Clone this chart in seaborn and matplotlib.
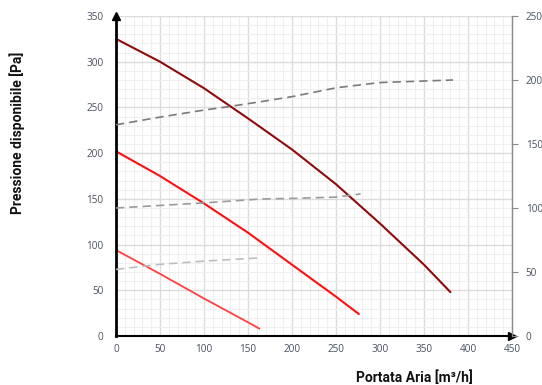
import matplotlib
matplotlib.use("Agg")
import matplotlib.pyplot as plt
import seaborn as sns
from matplotlib.ticker import MultipleLocator

# Pressure curves (left axis, Pa) vs air flow (m3/h)
flow_high = [0, 50, 100, 150, 200, 250, 300, 350, 380]
press_high = [325, 300, 271, 238, 204, 166, 123, 78, 48]
flow_mid = [0, 50, 100, 150, 200, 250, 276]
press_mid = [202, 175, 145, 113, 78, 43, 24]
flow_low = [0, 50, 100, 150, 163]
press_low = [94, 68, 41, 15, 8]

# Secondary curves (right axis), dashed
flow_d_high = [0, 50, 100, 126, 164, 200, 251, 300, 383]
val_d_high = [165, 171, 176.5, 179, 183, 187, 194, 198, 200]
flow_d_mid = [0, 50, 100, 164, 200, 250, 278]
val_d_mid = [100, 102, 104, 107, 107.5, 108.5, 111]
flow_d_low = [0, 50, 100, 163]
val_d_low = [52, 56, 58.5, 61]

x_ticks = [0, 50, 100, 150, 200, 250, 300, 350, 400, 450]
y_ticks_left = [0, 50, 100, 150, 200, 250, 300, 350]
y_ticks_right = [0, 50, 100, 150, 200, 250]

sns.set_style("white")
plt.rcParams["font.family"] = ["Open Sans", "DejaVu Sans"]

fig = plt.figure(figsize=(5.42, 3.85), dpi=100)
ax = fig.add_axes([116 / 542, 1 - 336 / 385, 396 / 542, 320 / 385])
ax2 = ax.twinx()

tick_color = "#4a5260"

# grid on the primary axis
ax.set_xlim(0, 450)
ax.set_ylim(0, 350)
ax.xaxis.set_major_locator(MultipleLocator(50))
ax.yaxis.set_major_locator(MultipleLocator(50))
ax.xaxis.set_minor_locator(MultipleLocator(10))
ax.yaxis.set_minor_locator(MultipleLocator(10))
ax.grid(which="major", color="#dcdcdc", linewidth=1.0)
ax.grid(which="minor", color="#efefef", linewidth=0.8)
ax.set_axisbelow(True)

# dashed curves on secondary axis
for fx, fy, col in [(flow_d_high, val_d_high, "#7a7a7a"),
                    (flow_d_mid, val_d_mid, "#9a9a9a"),
                    (flow_d_low, val_d_low, "#bdbdbd")]:
    sns.lineplot(x=fx, y=fy, ax=ax2, color=col, linewidth=1.2,
                 linestyle=(0, (5, 3)), sort=False)

# solid pressure curves
sns.lineplot(x=flow_high, y=press_high, ax=ax, color="#8f0a0a", linewidth=1.5, sort=False)
sns.lineplot(x=flow_mid, y=press_mid, ax=ax, color="#ff1010", linewidth=1.5, sort=False)
sns.lineplot(x=flow_low, y=press_low, ax=ax, color="#ff4040", linewidth=1.3, sort=False)

ax.set_xticks(x_ticks)
ax.set_yticks(y_ticks_left)
ax.tick_params(axis="both", which="both", length=0, labelsize=7.2,
               labelcolor=tick_color, pad=9)
ax.tick_params(axis="x", pad=6)

ax2.set_ylim(0, 250)
ax2.set_yticks(y_ticks_right)
ax2.tick_params(axis="y", length=4, width=0.8, color="#888888",
                labelsize=7.2, labelcolor=tick_color, pad=6)
ax2.grid(False)

for sp in ["top", "right"]:
    ax.spines[sp].set_visible(False)
for sp in ["top", "left", "bottom"]:
    ax2.spines[sp].set_visible(False)
ax2.spines["right"].set_color("#8a8a8a")
ax2.spines["right"].set_linewidth(1.0)
ax.spines["left"].set_color("black")
ax.spines["left"].set_linewidth(2.0)
ax.spines["bottom"].set_color("black")
ax.spines["bottom"].set_linewidth(1.5)

# arrow heads on the axes
ax.plot(0, 1.0, marker="^", color="black", markersize=6,
        transform=ax.transAxes, clip_on=False, zorder=10)
ax.plot(1.0, 0, marker=">", color="black", markersize=6,
        transform=ax.transAxes, clip_on=False, zorder=10)

ax.set_xlabel("Portata Aria [m³/h]", family=["Roboto", "DejaVu Sans"],
              fontweight="bold", fontsize=10, color="#111111")
ax.set_ylabel("Pressione disponibile [Pa]", family=["Roboto", "DejaVu Sans"],
              fontweight="bold", fontsize=10, color="#111111")
ax.xaxis.set_label_coords((414 - 116) / 396, -(370 - 336) / 320)
ax.yaxis.set_label_coords(-(116 - 25) / 396, (336 - 133) / 320)

fig.savefig("out.png", dpi=100)
